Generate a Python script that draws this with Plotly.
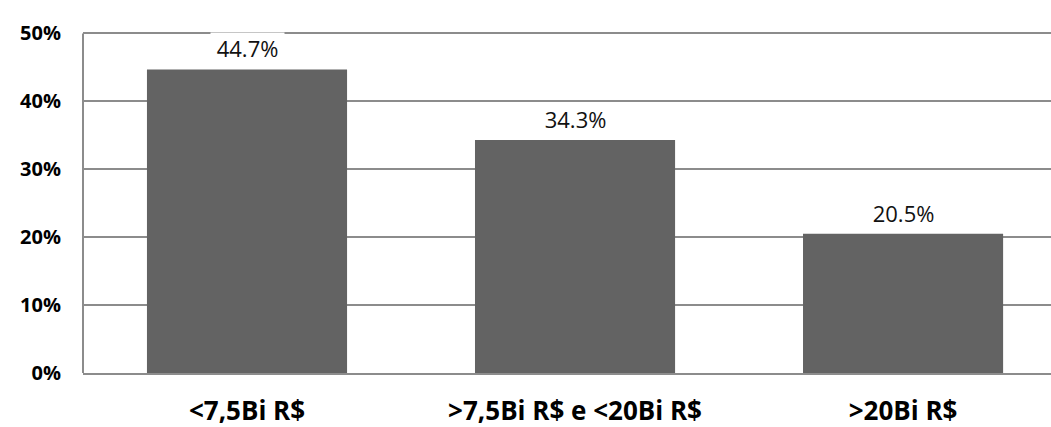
import plotly.graph_objects as go

categories = ["<7,5Bi R$", ">7,5Bi R$ e <20Bi R$", ">20Bi R$"]
values = [44.7, 34.3, 20.5]
labels = ["44.7%", "34.3%", "20.5%"]
y_tick_vals = [0, 10, 20, 30, 40, 50]
y_tick_text = ["0%", "10%", "20%", "30%", "40%", "50%"]

FONT = "Open Sans, Noto Sans, sans-serif"

fig = go.Figure()
fig.add_trace(go.Bar(x=categories, y=values, marker=dict(color="#636363", line=dict(width=0)),
                     hoverinfo="skip"))

for c, v, t in zip(categories, values, labels):
    fig.add_annotation(x=c, y=v, text="\u00a0" + t + "\u00a0", showarrow=False, yanchor="bottom", yshift=5,
                       bgcolor="white", borderpad=0,
                       font=dict(family=FONT, size=22, color="#111"))

fig.update_layout(
    width=1051, height=427,
    margin=dict(l=83, r=0, t=30, b=54),
    plot_bgcolor="white", paper_bgcolor="white",
    bargap=0.39, showlegend=False,
    xaxis=dict(range=[-0.5, 2.451], showgrid=False, showline=True, linecolor="#8c8c8c", linewidth=2,
               tickfont=dict(family=FONT, size=26, color="black", weight="bold"),
               ticklabelstandoff=14),
    yaxis=dict(range=[0, 50.5], tickmode="array", tickvals=y_tick_vals, ticktext=y_tick_text,
               showgrid=True, gridcolor="#8c8c8c", gridwidth=2,
               showline=False, zeroline=False,
               tickfont=dict(family=FONT, size=20, color="black", weight="bold"),
               ticklabelstandoff=21),
)
fig.add_shape(type="line", xref="x domain", yref="y", x0=0, x1=0, y0=0, y1=50,
              line=dict(color="#8c8c8c", width=2), layer="above")

fig.write_html("out.html", config={"displayModeBar": False},
               post_script="document.body.style.margin='0';document.body.style.overflow='hidden';")
